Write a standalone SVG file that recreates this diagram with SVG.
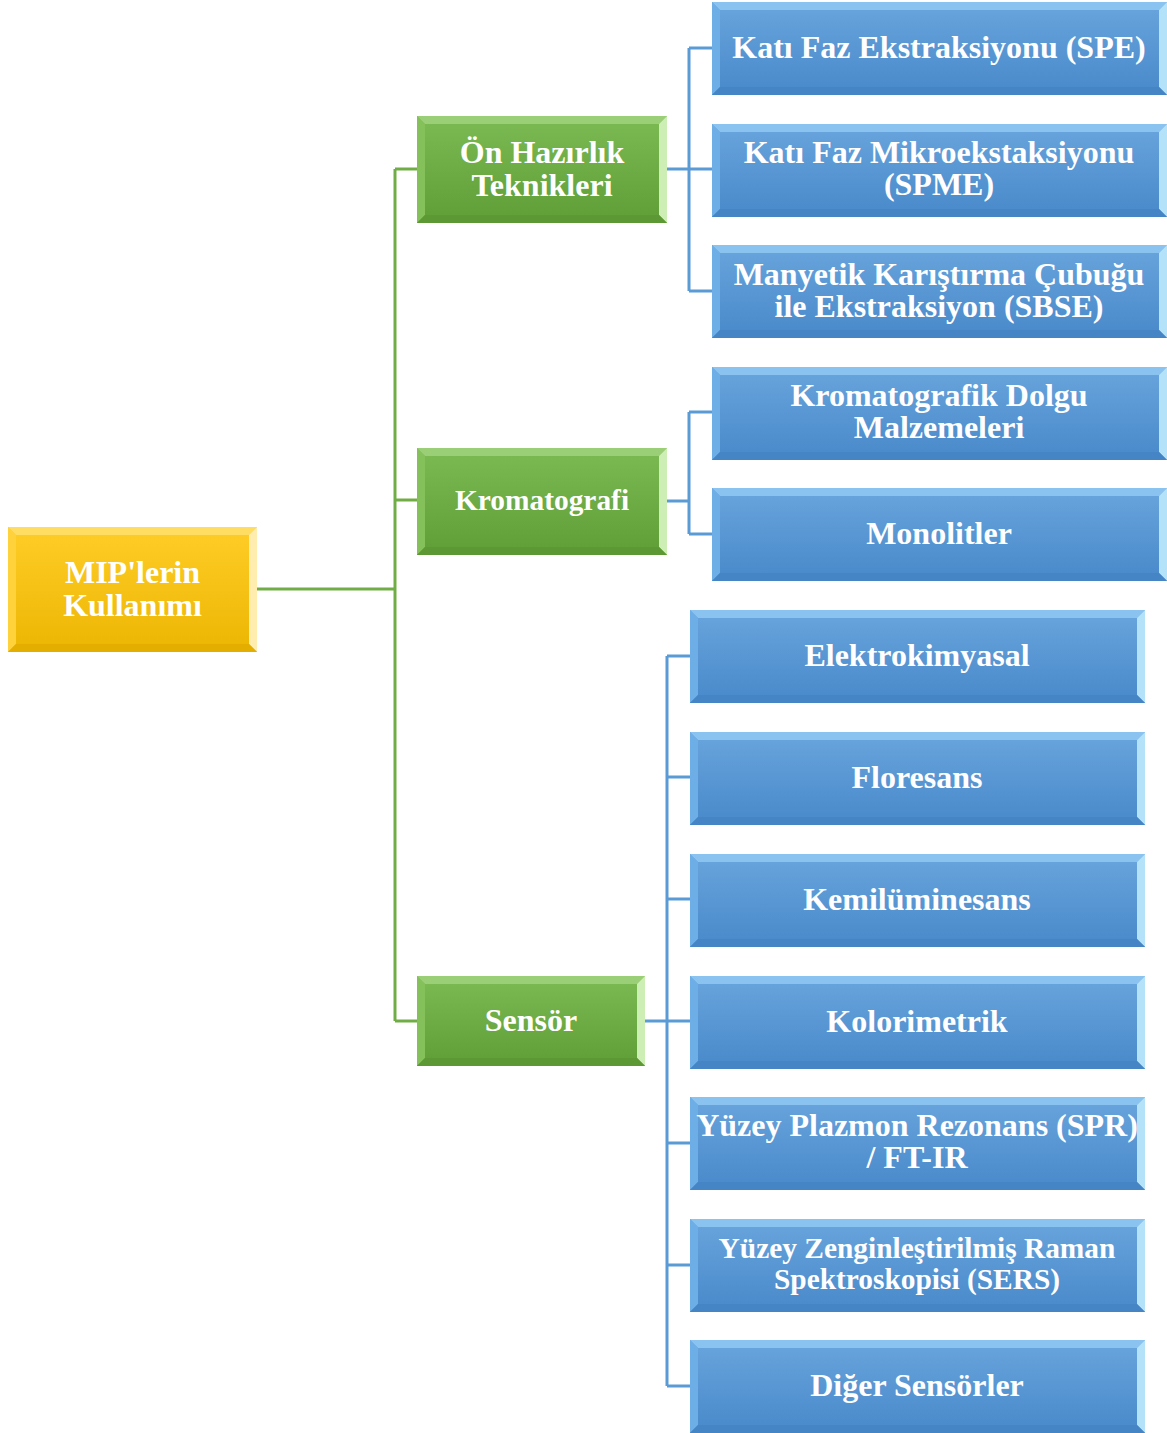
<svg xmlns="http://www.w3.org/2000/svg" xmlns:xlink="http://www.w3.org/1999/xlink" width="1167" height="1433" viewBox="0 0 1167 1433">
  <style>
    .lbl { font-family: "Liberation Serif", "Times New Roman", serif; font-weight: bold; font-size: 32px; fill: #ffffff; text-anchor: middle; }
    .lbl.sm { font-size: 29.4px; }
    .gline { stroke: #70ad47; stroke-width: 3; fill: none; }
    .bline { stroke: #5b9bd5; stroke-width: 3; fill: none; }
  </style>
  <defs>
    <linearGradient id="gBlue" x1="0" y1="0" x2="0" y2="1">
      <stop offset="0" stop-color="#69a5dd"/>
      <stop offset="1" stop-color="#4889ca"/>
    </linearGradient>
    <linearGradient id="gGreen" x1="0" y1="0" x2="0" y2="1">
      <stop offset="0" stop-color="#7cba54"/>
      <stop offset="1" stop-color="#5f9d36"/>
    </linearGradient>
    <linearGradient id="gGold" x1="0" y1="0" x2="0" y2="1">
      <stop offset="0" stop-color="#ffcd28"/>
      <stop offset="1" stop-color="#ecb602"/>
    </linearGradient>

    <!-- blue bevelled box 455 x 93 -->
    <g id="blueBox">
      <rect x="0" y="0" width="455" height="93" fill="url(#gBlue)"/>
      <polygon points="0,0 455,0 447,8 8,8" fill="#8ac3f0"/>
      <polygon points="0,0 8,8 8,85 0,93" fill="#6eaee6"/>
      <polygon points="455,0 455,93 447,85 447,8" fill="#b4e2f8"/>
      <polygon points="0,93 455,93 447,85 8,85" fill="#4585c6"/>
    </g>
    <!-- green bevelled boxes -->
    <g id="greenBox">
      <rect x="0" y="0" width="250" height="107" fill="url(#gGreen)"/>
      <polygon points="0,0 250,0 242,8 8,8" fill="#9acf77"/>
      <polygon points="0,0 8,8 8,99 0,107" fill="#84c15b"/>
      <polygon points="250,0 250,107 242,99 242,8" fill="#cdeeb5"/>
      <polygon points="0,107 250,107 242,99 8,99" fill="#5c9934"/>
    </g>
    <g id="greenBoxSmall">
      <rect x="0" y="0" width="228" height="90" fill="url(#gGreen)"/>
      <polygon points="0,0 228,0 220,8 8,8" fill="#9acf77"/>
      <polygon points="0,0 8,8 8,82 0,90" fill="#84c15b"/>
      <polygon points="228,0 228,90 220,82 220,8" fill="#cdeeb5"/>
      <polygon points="0,90 228,90 220,82 8,82" fill="#5c9934"/>
    </g>
    <g id="goldBox">
      <rect x="0" y="0" width="249" height="125" fill="url(#gGold)"/>
      <polygon points="0,0 249,0 241,8 8,8" fill="#ffdc62"/>
      <polygon points="0,0 8,8 8,117 0,125" fill="#ffd23c"/>
      <polygon points="249,0 249,125 241,117 241,8" fill="#ffedb0"/>
      <polygon points="0,125 249,125 241,117 8,117" fill="#e3ae00"/>
    </g>
  </defs>

  <!-- connectors -->
  <g id="connectors">
    <path class="gline" d="M257,589 H395 M395,169 V1021 M395,169 H417 M395,500 H417 M395,1021 H417"/>
    <path class="bline" d="M667,169 H689 M689,48 V291 M689,48 H712 M689,169 H712 M689,291 H712"/>
    <path class="bline" d="M667,501 H689 M689,412 V534 M689,412 H712 M689,534 H712"/>
    <path class="bline" d="M645,1021 H667 M667,656 V1386 M667,656 H690 M667,777 H690 M667,899 H690 M667,1021 H690 M667,1143 H690 M667,1265 H690 M667,1386 H690"/>
  </g>

  <!-- root -->
  <g id="node-root" transform="translate(8,527)">
    <use xlink:href="#goldBox"/>
    <text class="lbl" x="124.5" y="56">MIP'lerin</text>
    <text class="lbl" x="124.5" y="89">Kullanımı</text>
  </g>

  <!-- second level -->
  <g id="node-onhazirlik" transform="translate(417,116)">
    <use xlink:href="#greenBox"/>
    <text class="lbl" x="125" y="47">Ön Hazırlık</text>
    <text class="lbl" x="125" y="80">Teknikleri</text>
  </g>
  <g id="node-kromatografi" transform="translate(417,448)">
    <use xlink:href="#greenBox"/>
    <text class="lbl sm" x="125" y="62">Kromatografi</text>
  </g>
  <g id="node-sensor" transform="translate(417,976)">
    <use xlink:href="#greenBoxSmall"/>
    <text class="lbl" x="114" y="55">Sensör</text>
  </g>

  <!-- sample preparation leaves -->
  <g id="node-spe" transform="translate(712,2)">
    <use xlink:href="#blueBox"/>
    <text class="lbl" x="227" y="56">Katı Faz Ekstraksiyonu (SPE)</text>
  </g>
  <g id="node-spme" transform="translate(712,124)">
    <use xlink:href="#blueBox"/>
    <text class="lbl" x="227" y="39">Katı Faz Mikroekstaksiyonu</text>
    <text class="lbl" x="227" y="71">(SPME)</text>
  </g>
  <g id="node-sbse" transform="translate(712,245)">
    <use xlink:href="#blueBox"/>
    <text class="lbl" x="227" y="40">Manyetik Karıştırma Çubuğu</text>
    <text class="lbl" x="227" y="72">ile Ekstraksiyon (SBSE)</text>
  </g>

  <!-- chromatography leaves -->
  <g id="node-dolgu" transform="translate(712,367)">
    <use xlink:href="#blueBox"/>
    <text class="lbl" x="227" y="39">Kromatografik Dolgu</text>
    <text class="lbl" x="227" y="71">Malzemeleri</text>
  </g>
  <g id="node-monolit" transform="translate(712,488)">
    <use xlink:href="#blueBox"/>
    <text class="lbl" x="227" y="56">Monolitler</text>
  </g>

  <!-- sensor leaves -->
  <g id="node-elektro" transform="translate(690,610)">
    <use xlink:href="#blueBox"/>
    <text class="lbl" x="227" y="56">Elektrokimyasal</text>
  </g>
  <g id="node-floresans" transform="translate(690,732)">
    <use xlink:href="#blueBox"/>
    <text class="lbl" x="227" y="56">Floresans</text>
  </g>
  <g id="node-kemi" transform="translate(690,854)">
    <use xlink:href="#blueBox"/>
    <text class="lbl" x="227" y="56">Kemilüminesans</text>
  </g>
  <g id="node-kolori" transform="translate(690,976)">
    <use xlink:href="#blueBox"/>
    <text class="lbl" x="227" y="56">Kolorimetrik</text>
  </g>
  <g id="node-spr" transform="translate(690,1097)">
    <use xlink:href="#blueBox"/>
    <text class="lbl" x="227" y="39">Yüzey Plazmon Rezonans (SPR)</text>
    <text class="lbl" x="227" y="71">/ FT-IR</text>
  </g>
  <g id="node-sers" transform="translate(690,1219)">
    <use xlink:href="#blueBox"/>
    <text class="lbl sm" x="227" y="39">Yüzey Zenginleştirilmiş Raman</text>
    <text class="lbl sm" x="227" y="70">Spektroskopisi (SERS)</text>
  </g>
  <g id="node-diger" transform="translate(690,1340)">
    <use xlink:href="#blueBox"/>
    <text class="lbl" x="227" y="56">Diğer Sensörler</text>
  </g>
</svg>
